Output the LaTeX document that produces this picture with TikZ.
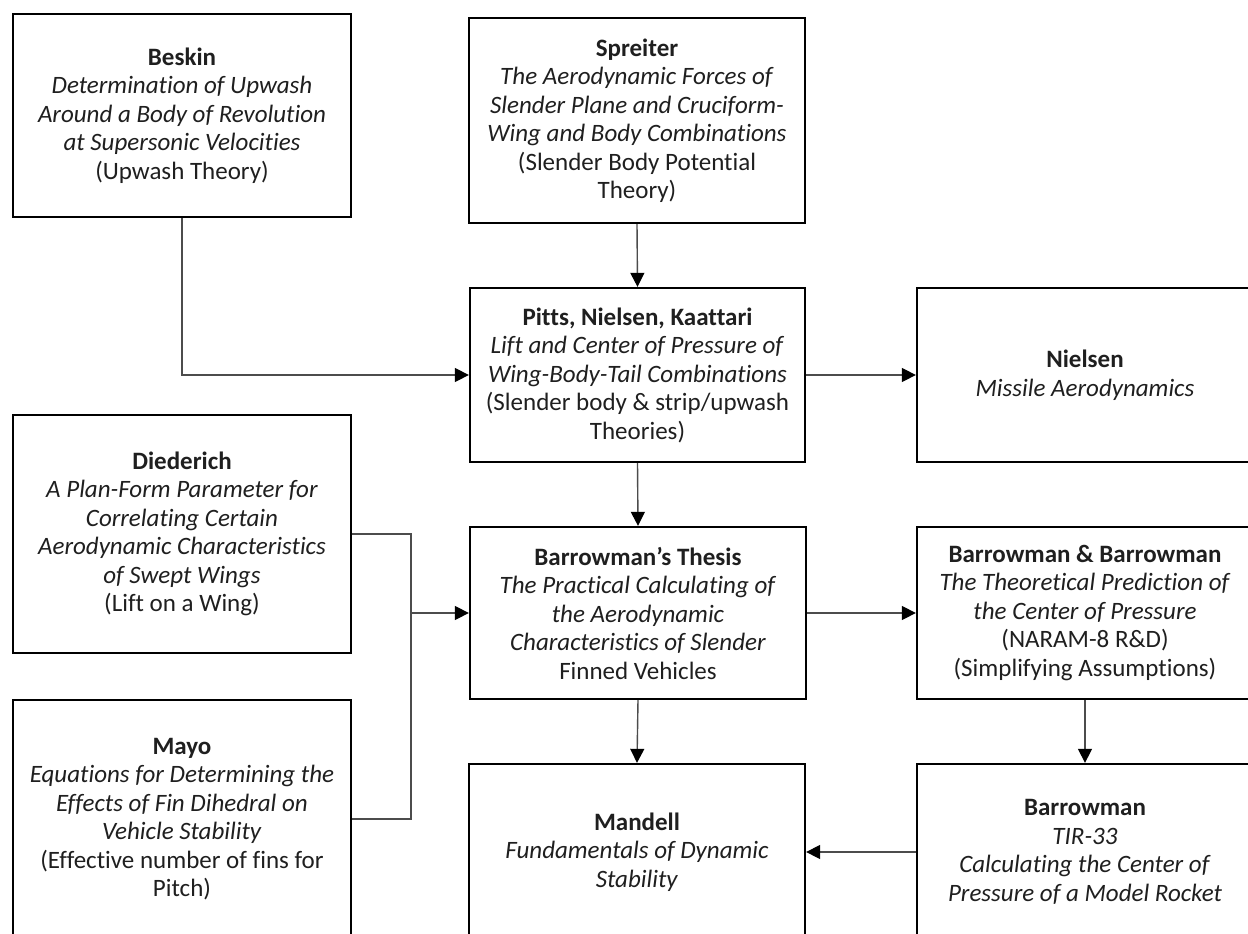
\documentclass[tikz,border=0pt]{standalone}
\usepackage{fontspec}
\setmainfont{Carlito}[Ligatures=NoCommon]
\usetikzlibrary{arrows.meta}
\begin{document}
\begin{tikzpicture}[x=1pt,y=-1pt,
  box/.style={draw=black, line width=2.3pt, align=center, inner sep=0pt,
    minimum width=336pt, text=black!88,
    font=\fontsize{25}{28.5}\selectfont},
  conn/.style={draw=black!70, line width=1.4pt},
  arr/.style={conn, -{Triangle[length=14pt,width=14pt,color=black]}}]
\useasboundingbox (0,0) rectangle (1248,934);
\fill[white] (0,0) rectangle (1248,934);
\clip (0,0) rectangle (1248,934);

\node[box, minimum width=338pt, minimum height=203pt] (beskin) at (182,115.5)
  {\textbf{Beskin}\\ \textit{Determination of Upwash}\\ \textit{Around a Body of Revolution}\\ \textit{at Supersonic Velocities}\\ (Upwash Theory)};
\node[box, minimum height=205pt] (spreiter) at (637,120.5)
  {\textbf{Spreiter}\\ \textit{The Aerodynamic Forces of}\\ \textit{Slender Plane and Cruciform-}\\ \textit{Wing and Body Combinations}\\ (Slender Body Potential\\ Theory)};
\node[box, minimum width=335pt, minimum height=174pt] (pitts) at (637.5,375)
  {\textbf{Pitts, Nielsen, Kaattari}\\ \textit{Lift and Center of Pressure of}\\ \textit{Wing-Body-Tail Combinations}\\ (Slender body \& strip/upwash\\ Theories)};
\node[box, minimum height=174pt] (nielsen) at (1085,375)
  {\textbf{Nielsen}\\ \textit{Missile Aerodynamics}};
\node[box, minimum width=338pt, minimum height=238pt] (diederich) at (182,534)
  {\textbf{Diederich}\\ \textit{A Plan-Form Parameter for}\\ \textit{Correlating Certain}\\ \textit{Aerodynamic Characteristics}\\ \textit{of Swept Wings}\\ (Lift on a Wing)};
\node[box, minimum height=172pt] (thesis) at (638,613)
  {\textbf{Barrowman’s Thesis}\\ \textit{The Practical Calculating of}\\ \textit{the Aerodynamic}\\ \textit{Characteristics of Slender}\\ Finned Vehicles};
\node[box, minimum height=172pt] (bb) at (1085,613)
  {\textbf{Barrowman \& Barrowman}\\ \textit{The Theoretical Prediction of}\\ \textit{the Center of Pressure}\\ (NARAM-8 R\&D)\\ (Simplifying Assumptions)};
\node[box, minimum width=338pt, minimum height=238pt] (mayo) at (182,819)
  {\textbf{Mayo}\\ \textit{Equations for Determining the}\\ \textit{Effects of Fin Dihedral on}\\ \textit{Vehicle Stability}\\ (Effective number of fins for\\ Pitch)};
\node[box, minimum height=176pt] (mandell) at (637,852)
  {\textbf{Mandell}\\ \textit{Fundamentals of Dynamic}\\ \textit{Stability}};
\node[box, minimum height=176pt] (barrowman) at (1085,852)
  {\textbf{Barrowman}\\ \textit{TIR-33}\\ \textit{Calculating the Center of}\\ \textit{Pressure of a Model Rocket}};

\coordinate (jn) at (411,613);
\draw[arr] (beskin.south) |- (pitts.west);
\draw[arr] (spreiter.south) -- (pitts.north);
\draw[arr] (pitts.east) -- (nielsen.west);
\draw[arr] (pitts.south) -- (thesis.north);
\draw[conn] (diederich.east) -| (jn) |- (mayo.east);
\draw[arr] (jn) -- (thesis.west);
\draw[arr] (thesis.east) -- (bb.west);
\draw[arr] (thesis.south) -- (mandell.north);
\draw[arr] (bb.south) -- (barrowman.north);
\draw[arr] (barrowman.west) -- (mandell.east);
\end{tikzpicture}
\end{document}
